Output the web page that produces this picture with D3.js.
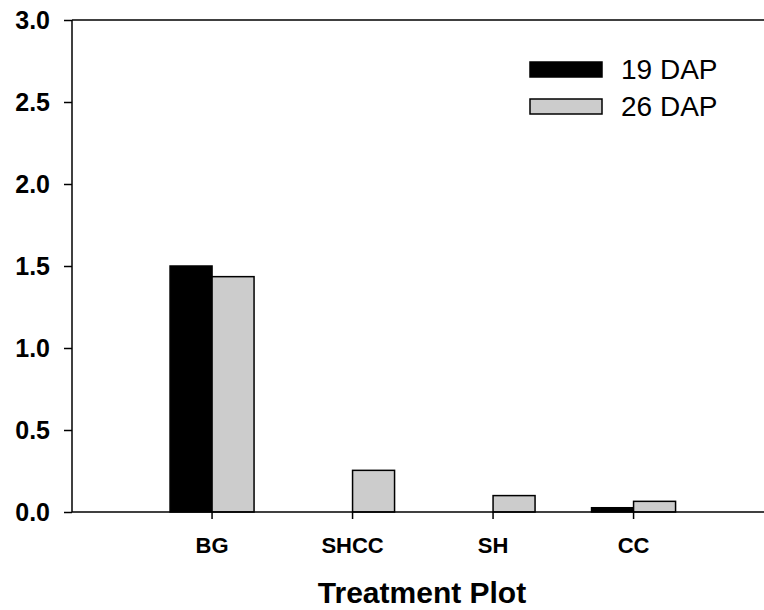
<!DOCTYPE html>
<html>
<head>
<meta charset="utf-8">
<title>Treatment Plot</title>
<script src="https://cdn.jsdelivr.net/npm/d3@7"></script>
<style>
  body { margin: 0; background: #fff; }
  svg { font-family: Arial, "Liberation Sans", sans-serif; }
</style>
</head>
<body>
<div id="chart"></div>
<script>
    var categories = ["BG", "SHCC", "SH", "CC"];
    var seriesNames = ["19 DAP", "26 DAP"];
    var dap19 = [1.50, 0, 0, 0.026];
    var dap26 = [1.435, 0.254, 0.10, 0.065];
    var yTicks = [0, 0.5, 1.0, 1.5, 2.0, 2.5, 3.0];

    var width = 764, height = 610;
    var plotLeft = 72, plotRight = 764, plotTop = 20, plotBottom = 512;

    var svg = d3.select("#chart").append("svg")
        .attr("width", width)
        .attr("height", height);

    var y = d3.scaleLinear().domain([0, 3]).range([plotBottom, plotTop]);

    var x = d3.scaleBand()
        .domain(categories)
        .range([plotLeft, plotRight])
        .paddingInner(0)
        .paddingOuter(0.4626)
        .align(0.537);

    // two bars sit side by side, meeting at the category tick
    var inner = d3.scaleBand()
        .domain(seriesNames)
        .range([x.bandwidth() / 2 - 42, x.bandwidth() / 2 + 42]);

    var colors = d3.scaleOrdinal().domain(seriesNames).range(["#000000", "#cccccc"]);

    var rows = categories.map(function(c, i) {
        return { cat: c, values: [
            { name: seriesNames[0], v: dap19[i] },
            { name: seriesNames[1], v: dap26[i] }
        ] };
    });

    var groups = svg.selectAll("g.grp")
        .data(rows)
        .enter().append("g")
            .attr("class", "grp")
            .attr("transform", function(d) { return "translate(" + x(d.cat) + ",0)"; });

    groups.selectAll("rect")
        .data(function(d) { return d.values.filter(function(e) { return e.v > 0; }); })
        .enter().append("rect")
            .attr("x", function(d) { return inner(d.name); })
            .attr("y", function(d) { return y(d.v); })
            .attr("width", inner.bandwidth())
            .attr("height", function(d) { return plotBottom - y(d.v); })
            .attr("fill", function(d) { return colors(d.name); })
            .attr("stroke", "#000")
            .attr("stroke-width", 1.5);

    // top frame line
    svg.append("line")
        .attr("x1", plotLeft).attr("x2", plotRight)
        .attr("y1", plotTop).attr("y2", plotTop)
        .attr("stroke", "#000").attr("stroke-width", 1.5);

    var yAxis = svg.append("g")
        .attr("transform", "translate(" + plotLeft + ",0)")
        .call(d3.axisLeft(y).tickValues(yTicks).tickSize(8).tickPadding(14)
            .tickFormat(d3.format(".1f")));
    yAxis.select(".domain").attr("stroke-width", 1.5).attr("d", "M0," + plotTop + "V" + plotBottom);
    yAxis.selectAll(".tick line").attr("stroke-width", 1.5);
    yAxis.selectAll(".tick text")
        .attr("font-size", 25)
        .attr("font-weight", "bold")
        .attr("fill", "#000")
        .attr("font-family", "Arial, 'Liberation Sans', sans-serif");

    var xAxis = svg.append("g")
        .attr("transform", "translate(0," + plotBottom + ")")
        .call(d3.axisBottom(x).tickSize(7).tickPadding(18));
    xAxis.select(".domain").attr("stroke-width", 1.5).attr("d", "M" + plotLeft + ",0H" + plotRight);
    xAxis.selectAll(".tick line").attr("stroke-width", 1.5);
    xAxis.selectAll(".tick text")
        .attr("font-size", 22)
        .attr("font-weight", "bold")
        .attr("fill", "#000")
        .attr("font-family", "Arial, 'Liberation Sans', sans-serif");

    svg.append("text")
        .attr("x", 422)
        .attr("y", 603)
        .attr("text-anchor", "middle")
        .attr("font-size", 30)
        .attr("font-weight", "bold")
        .text("Treatment Plot");

    var legend = svg.selectAll("g.leg")
        .data(seriesNames)
        .enter().append("g")
            .attr("class", "leg")
            .attr("transform", function(d, i) { return "translate(530," + (62 + i * 37) + ")"; });

    legend.append("rect")
        .attr("width", 72)
        .attr("height", 15)
        .attr("fill", function(d) { return colors(d); })
        .attr("stroke", "#000")
        .attr("stroke-width", 1.5);

    legend.append("text")
        .attr("x", 91)
        .attr("y", 17)
        .attr("font-size", 28)
        .attr("fill", "#000")
        .text(function(d) { return d; });
</script>
</body>
</html>
